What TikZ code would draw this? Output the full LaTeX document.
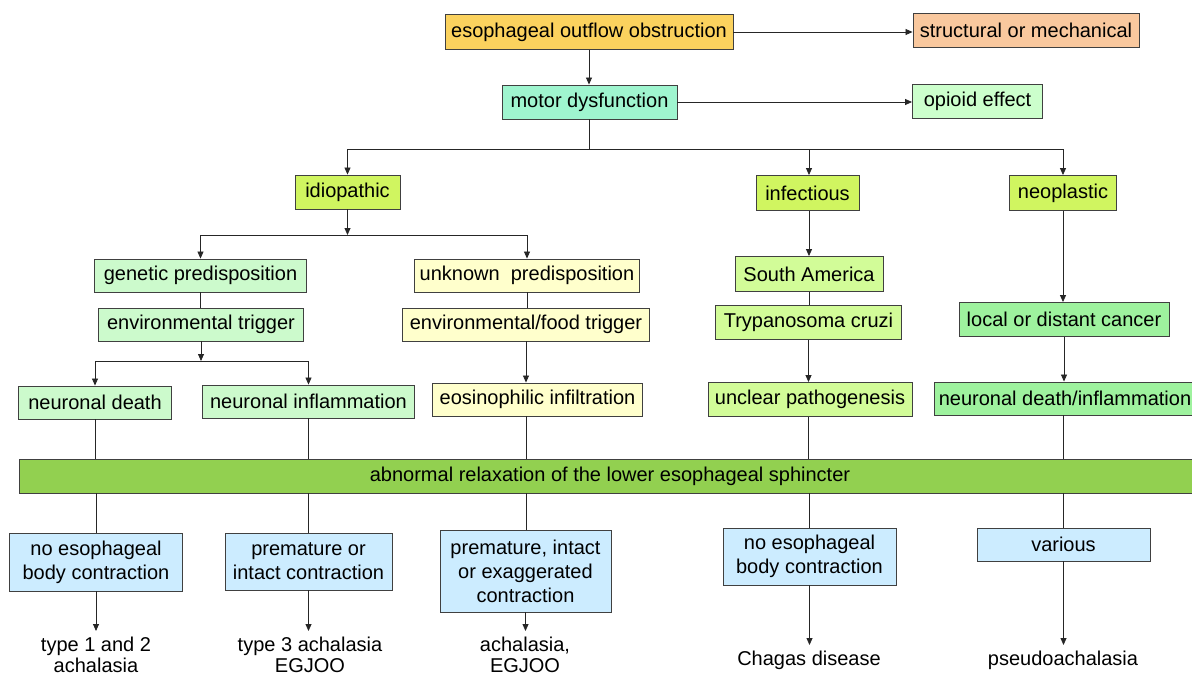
\documentclass[tikz,border=0pt]{standalone}
\usepackage{fontspec}
\setmainfont{Liberation Sans}
\usetikzlibrary{arrows.meta}
\definecolor{cObs}{HTML}{FBD25E}
\definecolor{cStruct}{HTML}{F9C89E}
\definecolor{cMotor}{HTML}{9FF5CF}
\definecolor{cOpioid}{HTML}{CCFFCC}
\definecolor{cCat}{HTML}{D0F560}
\definecolor{cGen}{HTML}{CCFACC}
\definecolor{cUnk}{HTML}{FFFFCC}
\definecolor{cInf}{HTML}{D2FC98}
\definecolor{cNeo}{HTML}{9EF29E}
\definecolor{cBar}{HTML}{92D050}
\definecolor{cBlue}{HTML}{CCECFF}
\begin{document}
\begin{tikzpicture}[x=1pt,y=-1pt,
  box/.style={draw=black!75, line width=0.9pt, inner sep=0pt, align=center,
    font=\fontsize{20}{24}\selectfont, text=black},
  res/.style={inner sep=0pt, align=center, anchor=north,
    font=\fontsize{20}{20.5}\selectfont, text=black},
  arr/.style={-{Triangle[length=7pt,width=6pt]}, line width=0.8pt, draw=black!85},
  ln/.style={line width=0.8pt, draw=black!85}]
\useasboundingbox (0,0) rectangle (1192,678);
\clip (0,0) rectangle (1192,678);
\fill[white] (0,0) rectangle (1192,678);

% top
\node[box, fill=cObs, minimum width=288, minimum height=35] (obs) at (589,32) {esophageal outflow obstruction};
\node[box, fill=cStruct, minimum width=226, minimum height=34] (struct) at (1026,30) {structural or mechanical};
\node[box, fill=cMotor, minimum width=175, minimum height=34] (motor) at (589.5,102) {motor dysfunction};
\node[box, fill=cOpioid, minimum width=130, minimum height=34] (opioid) at (977.5,101) {opioid effect};

% categories
\node[box, fill=cCat, minimum width=105, minimum height=34] (idio) at (347.5,192) {idiopathic};
\node[box, fill=cCat, minimum width=103, minimum height=35] (infect) at (807.5,193) {infectious};
\node[box, fill=cCat, minimum width=107, minimum height=35] (neo) at (1063,193) {neoplastic};

% idiopathic branch
\node[box, fill=cGen, minimum width=212, minimum height=33] (genetic) at (200.5,275.5) {genetic predisposition};
\node[box, fill=cGen, minimum width=205, minimum height=33] (envt) at (201,324.5) {environmental trigger};
\node[box, fill=cGen, minimum width=153, minimum height=33] (ndeath) at (95,402.5) {neuronal death};
\node[box, fill=cGen, minimum width=212, minimum height=33] (ninfl) at (308.5,401.5) {neuronal inflammation};
\node[box, fill=cUnk, minimum width=225, minimum height=33] (unknown) at (527,275.5) {unknown\ \ predisposition};
\node[box, fill=cUnk, minimum width=247, minimum height=33] (envfood) at (526,324.5) {environmental/food trigger};
\node[box, fill=cUnk, minimum width=210, minimum height=33] (eos) at (537.5,399.5) {eosinophilic infiltration};

% infectious branch
\node[box, fill=cInf, minimum width=148, minimum height=35] (sa) at (809,274) {South America};
\node[box, fill=cInf, minimum width=186, minimum height=34] (tryp) at (808.5,322.5) {Trypanosoma cruzi};
\node[box, fill=cInf, minimum width=204, minimum height=34] (unclear) at (810,399.5) {unclear pathogenesis};

% neoplastic branch
\node[box, fill=cNeo, minimum width=210, minimum height=34] (local) at (1064,319.5) {local or distant cancer};
\node[box, fill=cNeo, minimum width=262, minimum height=33] (ndi) at (1065,398.5) {neuronal death/inflammation};

% bar
\node[box, fill=cBar, minimum width=1182, minimum height=34] (bar) at (610,476) {abnormal relaxation of the lower esophageal sphincter};

% blue boxes
\node[box, fill=cBlue, minimum width=173, minimum height=58] (b1) at (96,562) {no esophageal\\body contraction};
\node[box, fill=cBlue, minimum width=167, minimum height=57] (b2) at (308.5,561.5) {premature or\\intact contraction};
\node[box, fill=cBlue, minimum width=171, minimum height=82] (b3) at (525.5,571) {premature, intact\\or exaggerated\\contraction};
\node[box, fill=cBlue, minimum width=173, minimum height=57] (b4) at (809.5,556.5) {no esophageal\\body contraction};
\node[box, fill=cBlue, minimum width=173, minimum height=33] (b5) at (1063.5,544.5) {various};

% results
\node[res] (r1) at (96,637) {type 1 and 2\\achalasia};
\node[res] (r2) at (310,637) {type 3 achalasia\\EGJOO};
\node[res] (r3) at (525,637) {achalasia,\\EGJOO};
\node[res] (r4) at (809,651) {Chagas disease};
\node[res] (r5) at (1063,651) {pseudoachalasia};

% connectors top
\draw[arr] (obs.east) -- (struct.west |- obs.east);
\draw[arr] (obs.south) -- (obs.south |- motor.north);
\draw[arr] (motor.east) -- (opioid.west |- motor.east);
\draw[ln] (motor.south) -- ++(0,30) coordinate (j1);
\draw[ln] (idio.north |- j1) -- (neo.north |- j1);
\draw[arr] (idio.north |- j1) -- (idio.north);
\draw[arr] ([xshift=1.5pt]infect.north |- j1) -- ([xshift=1.5pt]infect.north);
\draw[arr] (neo.north |- j1) -- (neo.north);

% idiopathic connectors
\coordinate (j2) at (347.5,235);
\draw[arr] (idio.south) -- (j2);
\draw[ln] (genetic.north |- j2) -- (unknown.north |- j2);
\draw[arr] (genetic.north |- j2) -- (genetic.north);
\draw[arr] (unknown.north |- j2) -- (unknown.north);
\draw[ln] (genetic.south) -- (genetic.south |- envt.north);
\coordinate (j3) at (201,361);
\draw[arr] (envt.south) -- (j3);
\draw[ln] (ndeath.north |- j3) -- (ninfl.north |- j3);
\draw[arr] (ndeath.north |- j3) -- (ndeath.north);
\draw[arr] (ninfl.north |- j3) -- (ninfl.north);
\draw[ln] (unknown.south) -- (unknown.south |- envfood.north);
\draw[arr] (envfood.south) -- (envfood.south |- eos.north);

% infectious connectors
\draw[arr] (infect.south -| sa.north) -- (sa.north);
\draw[ln] (sa.south) -- (sa.south |- tryp.north);
\draw[arr] (tryp.south) -- (tryp.south |- unclear.north);

% neoplastic connectors
\draw[arr] (neo.south) -- (neo.south |- local.north);
\draw[arr] (local.south) -- (local.south |- ndi.north);

% to bar
\draw[ln] (ndeath.south) -- (ndeath.south |- bar.north);
\draw[ln] (ninfl.south) -- (ninfl.south |- bar.north);
\draw[ln] (envfood.south |- eos.south) -- (envfood.south |- bar.north);
\draw[ln] (tryp.south |- unclear.south) -- (tryp.south |- bar.north);
\draw[ln] (neo.south |- ndi.south) -- (neo.south |- bar.north);

% bar to blue
\draw[ln] (b1.north |- bar.south) -- (b1.north);
\draw[ln] (b2.north |- bar.south) -- (b2.north);
\draw[ln] (envfood.south |- bar.south) -- (envfood.south |- b3.north);
\draw[ln] (b4.north |- bar.south) -- (b4.north);
\draw[ln] (b5.north |- bar.south) -- (b5.north);

% blue to results
\draw[arr, shorten >=6pt] (b1.south) -- (r1.north);
\draw[arr, shorten >=6pt] (b2.south) -- (b2.south |- r2.north);
\draw[arr, shorten >=6pt] (b3.south) -- (b3.south |- r3.north);
\draw[arr, shorten >=6pt] (b4.south) -- (b4.south |- r4.north);
\draw[arr, shorten >=6pt] (b5.south) -- (b5.south |- r5.north);
\end{tikzpicture}
\end{document}
